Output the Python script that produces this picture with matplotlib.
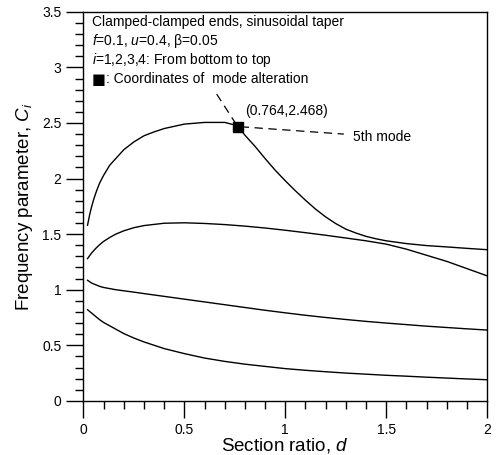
import matplotlib
matplotlib.use("Agg")
import matplotlib.pyplot as plt
from matplotlib.ticker import MultipleLocator, FuncFormatter

plt.rcParams['font.family'] = ['Liberation Sans', 'DejaVu Sans']
plt.rcParams['mathtext.fontset'] = 'custom'
plt.rcParams['mathtext.rm'] = 'Liberation Sans'
plt.rcParams['mathtext.it'] = 'Liberation Sans:italic'
plt.rcParams['lines.scale_dashes'] = False

# Section ratio values for modes 1-3
d = [0.02, 0.04, 0.06, 0.08, 0.1, 0.13, 0.16, 0.2, 0.25, 0.3, 0.4, 0.5, 0.6, 0.7,
     0.8, 0.9, 1.0, 1.1, 1.2, 1.3, 1.4, 1.5, 1.6, 1.7, 1.8, 1.9, 2.0]
mode1 = [0.82, 0.79, 0.76, 0.73, 0.705, 0.675, 0.645, 0.605, 0.565, 0.53, 0.47,
         0.425, 0.385, 0.355, 0.33, 0.31, 0.29, 0.275, 0.262, 0.25, 0.24, 0.23,
         0.222, 0.213, 0.205, 0.197, 0.19]
mode2 = [1.085, 1.06, 1.045, 1.03, 1.02, 1.01, 1.0, 0.99, 0.978, 0.965, 0.94,
         0.915, 0.89, 0.865, 0.84, 0.815, 0.792, 0.77, 0.75, 0.732, 0.715, 0.70,
         0.686, 0.672, 0.66, 0.648, 0.637]
mode3 = [1.28, 1.33, 1.37, 1.405, 1.435, 1.47, 1.50, 1.53, 1.558, 1.577, 1.598,
         1.602, 1.596, 1.586, 1.572, 1.555, 1.535, 1.513, 1.49, 1.465, 1.44, 1.41,
         1.365, 1.31, 1.255, 1.19, 1.125]
# Mode 4 (passes through the mode alteration point)
d4 = [0.02, 0.03, 0.04, 0.05, 0.065, 0.08, 0.1, 0.13, 0.16, 0.2, 0.25, 0.3, 0.35,
      0.4, 0.5, 0.6, 0.7, 0.764, 0.8, 0.85, 0.9, 0.95, 1.0, 1.05, 1.1, 1.15, 1.2,
      1.25, 1.3, 1.35, 1.4, 1.45, 1.5, 1.6, 1.7, 1.8, 1.9, 2.0]
mode4 = [1.58, 1.67, 1.745, 1.81, 1.89, 1.96, 2.03, 2.12, 2.18, 2.26, 2.33, 2.385,
         2.42, 2.45, 2.49, 2.505, 2.505, 2.475, 2.39, 2.29, 2.18, 2.075, 1.98, 1.89,
         1.805, 1.725, 1.655, 1.595, 1.545, 1.51, 1.48, 1.458, 1.44, 1.415, 1.397,
         1.385, 1.372, 1.36]
# Mode alteration point and 5th mode dashed segments through it
alt_x, alt_y = 0.764, 2.468
d5 = [0.66, 0.764, 1.29]
mode5 = [2.76, 2.468, 2.40]

fig = plt.figure(figsize=(4.97, 4.55), dpi=100)
ax = fig.add_axes([0.168, 0.119, 0.812, 0.855])

for ys in (mode1, mode2, mode3):
    ax.plot(d, ys, color='black', lw=1.0)
ax.plot(d4, mode4, color='black', lw=1.0)
ax.plot(d5, mode5, color='black', lw=0.9, linestyle=(0, (6, 4)))
ax.plot([alt_x], [alt_y], marker='s', color='black', markersize=7.5, linestyle='none')

ax.set_xlim(0, 2)
ax.set_ylim(0, 3.5)
ax.xaxis.set_major_locator(MultipleLocator(0.5))
ax.xaxis.set_minor_locator(MultipleLocator(0.1))
ax.yaxis.set_major_locator(MultipleLocator(0.5))
ax.yaxis.set_minor_locator(MultipleLocator(0.1))
ax.xaxis.set_major_formatter(FuncFormatter(lambda v, p: '%g' % v))
ax.yaxis.set_major_formatter(FuncFormatter(lambda v, p: '%g' % v))
ax.tick_params(which='major', direction='out', length=12, width=1, labelsize=10, pad=4)
ax.tick_params(which='minor', direction='out', length=6, width=1)
for s in ax.spines.values():
    s.set_linewidth(1.0)

ax.set_xlabel('Section ratio, $d$', fontsize=13.5, labelpad=-1)
ax.set_ylabel('Frequency parameter, $C_i$', fontsize=13.5, labelpad=5)

lines = ['Clamped-clamped ends, sinusoidal taper',
         '$f$=0.1, $u$=0.4, β=0.05',
         '$i$=1,2,3,4: From bottom to top']
for k, t in enumerate(lines):
    ax.text(0.04, 3.41 - k * 0.172, t, fontsize=10, va='center', ha='left')
ybox = 3.41 - 3 * 0.172
ax.text(0.04, ybox, '\u25a0', fontsize=10.5, va='center', ha='left',
        family=['DejaVu Sans'])
ax.annotate(': Coordinates of  mode alteration', xy=(0.04, ybox), xytext=(10.5, 0),
            textcoords='offset points', fontsize=10, va='center', ha='left')

ax.text(0.80, 2.61, '(%.3f,%.3f)' % (alt_x, alt_y), fontsize=10, va='center', ha='left')
ax.text(1.338, 2.37, '5th mode', fontsize=10, va='center', ha='left')

fig.savefig('out.png', dpi=100)
